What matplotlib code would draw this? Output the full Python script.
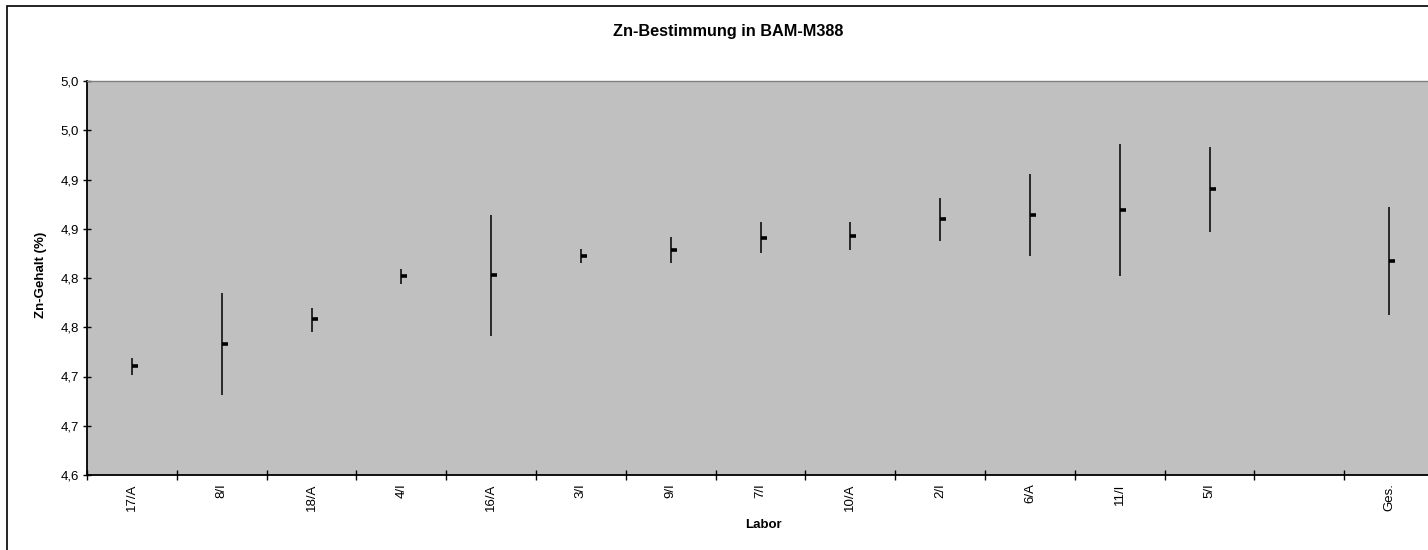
import matplotlib
matplotlib.use("Agg")
import matplotlib.pyplot as plt
import matplotlib.patches as patches
import numpy as np

# Data (high / low / mean per lab)
labs = ['17/A', '8/I', '18/A', '4/I', '16/A', '3/I', '9/I', '7/I', '10/A',
        '2/I', '6/A', '11/I', '5/I', '', 'Ges.']
high = [4.719, 4.785, 4.770, 4.809, 4.864, 4.829, 4.842, 4.857, 4.857,
        4.881, 4.906, 4.936, 4.933, np.nan, 4.872]
low = [4.702, 4.681, 4.745, 4.794, 4.741, 4.815, 4.815, 4.825, 4.828,
       4.838, 4.822, 4.802, 4.847, np.nan, 4.762]
mean = [4.711, 4.733, 4.758, 4.802, 4.803, 4.822, 4.828, 4.841, 4.843,
        4.860, 4.864, 4.869, 4.890, np.nan, 4.817]
y_ticks = [4.60, 4.65, 4.70, 4.75, 4.80, 4.85, 4.90, 4.95, 5.00]
y_tick_labels = ['4,6', '4,7', '4,7', '4,8', '4,8', '4,9', '4,9', '5,0', '5,0']

plt.rcParams['font.family'] = ['Liberation Sans', 'DejaVu Sans']

W, H = 1428, 550
fig = plt.figure(figsize=(W / 100, H / 100), dpi=100)
ax = fig.add_axes([87 / W, 1 - 475 / H, (1434 - 87) / W, (475 - 81) / H])
ax.set_facecolor('#C0C0C0')

x = np.arange(len(labs))
ax.vlines(x, low, high, color='black', lw=1.1)
ax.plot(x, mean, linestyle='none', marker=1, markersize=4.5, mew=2.6, color='black')

ax.set_xlim(-0.5, len(labs) - 0.5)
ax.set_ylim(4.60, 5.00)
ax.set_yticks(y_ticks)
ax.set_yticklabels(y_tick_labels, fontsize=9.5)
ax.set_xticks(x)
ax.set_xticklabels(labs, rotation=90, fontsize=9.5)
ax.set_xticks(np.arange(len(labs) + 1) - 0.5, minor=True)
ax.tick_params(axis='x', which='major', length=0, pad=6)
ax.tick_params(axis='x', which='minor', direction='inout', length=6.5, width=1)
ax.tick_params(axis='y', direction='inout', length=6, width=1, pad=3)

for s in ['left', 'bottom']:
    ax.spines[s].set_color('black')
    ax.spines[s].set_linewidth(1.3)
for s in ['top', 'right']:
    ax.spines[s].set_color('#808080')
    ax.spines[s].set_linewidth(1)

fig.text(728 / W, 1 - 36 / H, 'Zn-Bestimmung in BAM-M388', ha='center',
         va='baseline', fontsize=11.7, fontweight='bold')
fig.text(763 / W, 1 - 525 / H, 'Labor', ha='center', va='center',
         fontsize=9.5, fontweight='bold')
fig.text(41 / W, 1 - 275 / H, 'Zn-Gehalt (%)', ha='center', va='center',
         rotation=90, fontsize=9.5, fontweight='bold')

# chart area border
fig.patches.append(patches.Rectangle((7 / W, -0.05), 1.1, 1 - 5.5 / H + 0.05,
                                     transform=fig.transFigure, fill=False,
                                     edgecolor='black', lw=1.2))

fig.savefig('out.png', dpi=100)
